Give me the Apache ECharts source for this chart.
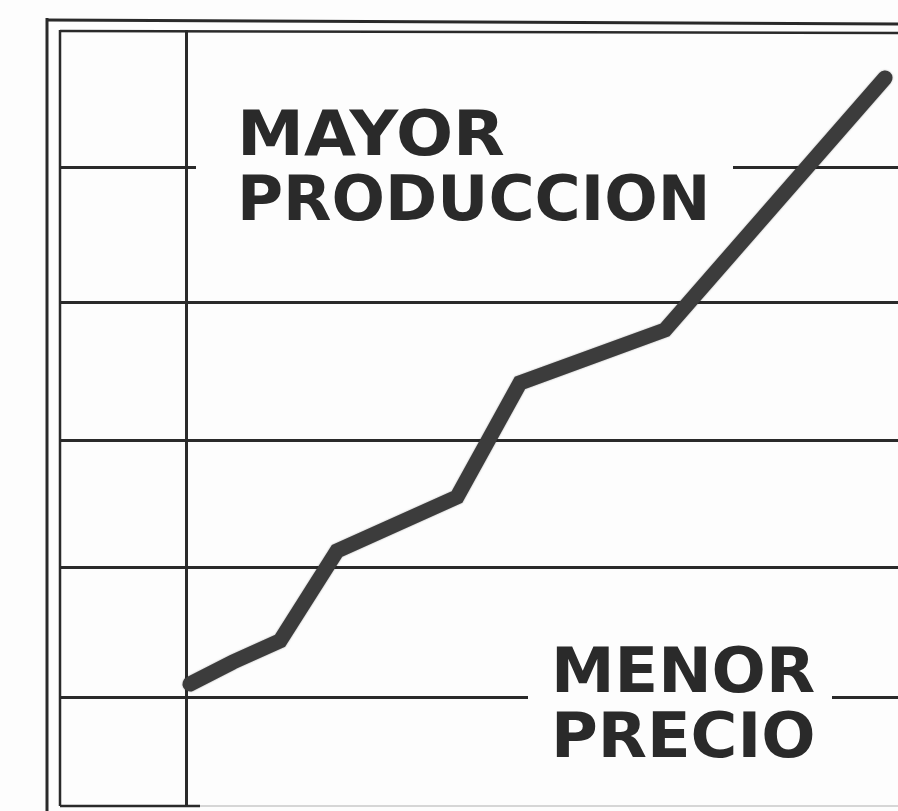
<!DOCTYPE html>
<html>
<head>
<meta charset="utf-8">
<script src="https://cdn.jsdelivr.net/npm/echarts@6/dist/echarts.min.js"></script>
<style>
html,body{margin:0;padding:0;background:#fdfdfd;}
#chart{width:898px;height:811px;}
</style>
</head>
<body>
<div id="chart"></div>
<script>
// Data (arbitrary units: x = time, y = production level)
var xValues = [0.04, 0.47, 0.94, 1.51, 2.71, 3.34, 4.79, 6.99];
var yValues = [0.098, 0.264, 0.423, 1.102, 1.509, 2.370, 2.770, 4.672];
var gridLevels = [0, 0.98, 1.94, 2.98, 4];
var labelTop = ['MAYOR', 'PRODUCCION'];
var labelBottom = ['MENOR', 'PRECIO'];

var points = xValues.map(function (x, i) { return [x, yValues[i]]; });

var chart = echarts.init(document.getElementById('chart'), null, {renderer: 'canvas'});
var ink = '#2a2a2a';
var font = '"DejaVu Sans", "Liberation Sans", sans-serif';

function label(text, x, y, sx) {
  return {type: 'text', z: 70, x: x, y: y, scaleX: sx,
    style: {text: text, fill: ink, font: 'bold 62px ' + font,
      textVerticalAlign: 'middle', verticalAlign: 'middle'}};
}

var option = {
  backgroundColor: '#fdfdfd',
  animation: false,
  grid: {left: 60, right: 0, top: 30, bottom: 5},
  xAxis: {type: 'value', min: -1.26, max: 7.12, show: false},
  yAxis: {type: 'value', min: -0.823, max: 5.034, show: false},
  series: [
    {
      type: 'line',
      data: points,
      symbol: 'none',
      z: 5,
      lineStyle: {color: '#3c3c3c', width: 15, cap: 'round', join: 'miter',
        shadowColor: 'rgba(0,0,0,0.35)', shadowBlur: 2},
      markLine: {
        silent: true,
        symbol: 'none',
        label: {show: false},
        lineStyle: {color: ink, width: 2.8, type: 'solid'},
        data: gridLevels.map(function (v) { return {yAxis: v}; })
          .concat([{xAxis: 0, lineStyle: {color: ink, width: 3}}])
      }
    }
  ],
  graphic: [
    // outer frame lines
    {type: 'line', z: 50, shape: {x1: 47, y1: 18, x2: 47, y2: 811}, style: {stroke: ink, lineWidth: 3}},
    {type: 'line', z: 50, shape: {x1: 60, y1: 30, x2: 60, y2: 806}, style: {stroke: ink, lineWidth: 2.5}},
    {type: 'line', z: 50, shape: {x1: 47, y1: 20, x2: 898, y2: 24}, style: {stroke: ink, lineWidth: 3}},
    {type: 'line', z: 50, shape: {x1: 60, y1: 31, x2: 898, y2: 33}, style: {stroke: ink, lineWidth: 2.5}},
    {type: 'line', z: 50, shape: {x1: 60, y1: 806, x2: 200, y2: 806}, style: {stroke: ink, lineWidth: 2.5}},
    {type: 'line', z: 50, shape: {x1: 200, y1: 806, x2: 898, y2: 806}, style: {stroke: '#c8c8c8', lineWidth: 1.5}},
    // white boxes behind the labels (interrupt the grid lines)
    {type: 'rect', z: 60, shape: {x: 196, y: 100, width: 537, height: 135}, style: {fill: '#fdfdfd'}},
    {type: 'rect', z: 60, shape: {x: 528, y: 640, width: 304, height: 135}, style: {fill: '#fdfdfd'}},
    // labels
    label(labelTop[0], 237, 139, 1.085),
    label(labelTop[1], 237, 204, 1.015),
    label(labelBottom[0], 551, 676, 1.03),
    label(labelBottom[1], 551, 741, 1.03)
  ]
};
chart.setOption(option);
</script>
</body>
</html>
